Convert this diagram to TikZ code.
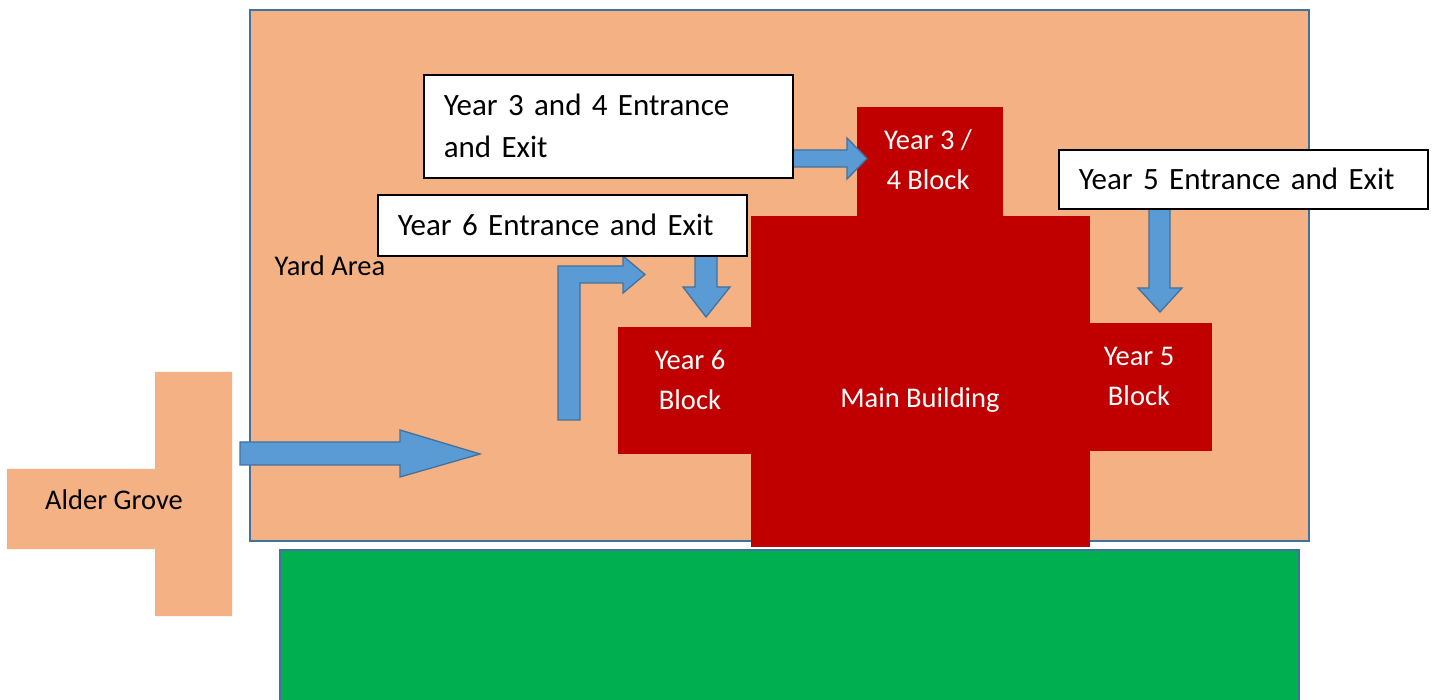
\documentclass[tikz,border=0pt]{standalone}
\usepackage{fontspec}
\setmainfont{Carlito}
\usetikzlibrary{positioning}

\definecolor{yardfill}{HTML}{F4B183}
\definecolor{planline}{HTML}{41719C}
\definecolor{building}{HTML}{C00000}
\definecolor{arrowfill}{HTML}{5B9BD5}
\definecolor{field}{HTML}{00B050}

\begin{document}
\begin{tikzpicture}[x=1pt, y=-1pt,
        plantext/.style={font=\fontsize{28.5}{40}\selectfont, inner sep=0pt, align=center},
        block/.style={fill=building, inner sep=0pt, anchor=north west},
        blocktext/.style={plantext, text=white},
        exitbox/.style={draw=black, line width=1.6pt, fill=white, anchor=north west,
            font=\fontsize{31}{42}\selectfont, text width=329pt, inner xsep=20pt, inner ysep=0pt, align=left},
        exitarrow/.style={fill=arrowfill, draw=planline, line width=1.3pt}]
    \useasboundingbox (0,0) rectangle (1433,700);
    % grounds
    \draw[fill=yardfill, draw=planline, line width=2pt] (250,10) rectangle (1309,541);
    \fill[yardfill] (7,469) -- (155,469) -- (155,372) -- (232,372) -- (232,616)
        -- (155,616) -- (155,549) -- (7,549) -- cycle;
    \draw[fill=field, draw=planline, line width=2pt] (280,550) rectangle (1299,706);
    \node[plantext] (yard) at (330,266) {Yard Area};
    \node[plantext] (alder) at (114,500) {Alder Grove};
    % school building
    \node[block, minimum width=339pt, minimum height=331pt] (main) at (751,216) {};
    \node[block, minimum width=146pt, minimum height=110pt] (y34) at (857,107) {};
    \node[block, minimum width=134pt, minimum height=127pt] (y6) at (618,327) {};
    \node[block, minimum width=123pt, minimum height=128pt] (y5) at (1089,323) {};
    \node[blocktext] (mainlabel) at (920,400) {Main Building};
    \node[blocktext] (y34label) at (928,160) {Year 3 /\\4 Block};
    \node[blocktext] (y6label) at (690,380) {Year 6\\Block};
    \node[blocktext] (y5label) at (1139,376) {Year 5\\Block};
    % arrows
    \draw[exitarrow] (240,442) -- (400,442) -- (400,430) -- (480,454) -- (400,477)
        -- (400,465) -- (240,465) -- cycle;
    \draw[exitarrow] (558,420) -- (558,266) -- (623,266) -- (623,256) -- (645,274.5)
        -- (623,293) -- (623,283) -- (580,283) -- (580,420) -- cycle;
    \draw[exitarrow] (695,255) -- (717,255) -- (717,287) -- (730,287) -- (706,317)
        -- (683,287) -- (695,287) -- cycle;
    \draw[exitarrow] (792,150) -- (847,150) -- (847,138) -- (867,158.5) -- (847,179)
        -- (847,167) -- (792,167) -- cycle;
    \draw[exitarrow] (1149,208) -- (1170,208) -- (1170,288) -- (1182,288) -- (1160,312)
        -- (1138,288) -- (1149,288) -- cycle;
    % entrance labels
    \node[exitbox, minimum height=103pt] (y34exit) at (423,74) {Year 3 and 4 Entrance\\and Exit};
    \node[exitbox, minimum height=61pt] (y6exit) at (377,194) {Year 6 Entrance and Exit};
    \node[exitbox, minimum height=59pt] (y5exit) at (1058,149) {Year 5 Entrance and Exit};
\end{tikzpicture}
\end{document}
